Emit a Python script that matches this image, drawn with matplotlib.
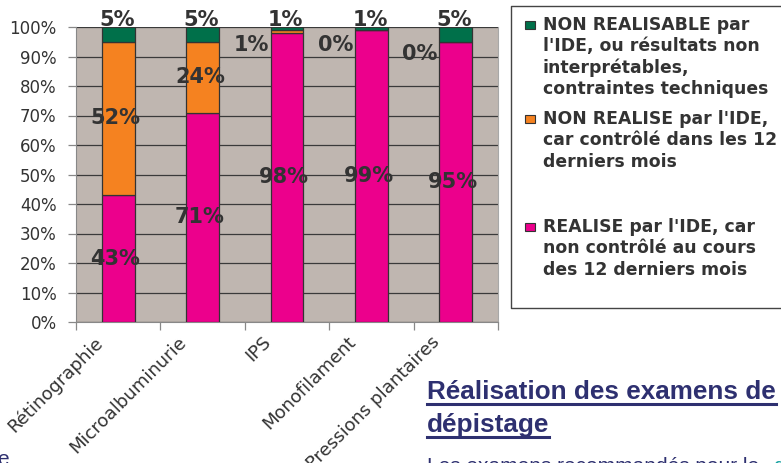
import numpy as np
import matplotlib
matplotlib.use("Agg")
import matplotlib.pyplot as plt
from matplotlib.patches import Rectangle
from matplotlib.lines import Line2D
from matplotlib.transforms import offset_copy

# data
categories = ["Rétinographie", "Microalbuminurie", "IPS", "Monofilament", "Pressions plantaires"]
realise = [43, 71, 98, 99, 95]
non_realise = [52, 24, 1, 0, 0]
non_realisable = [5, 5, 1, 1, 5]
yticks = [0, 10, 20, 30, 40, 50, 60, 70, 80, 90, 100]

legend_lines = [
    ["NON REALISABLE par", "l'IDE, ou résultats non", "interprétables,", "contraintes techniques"],
    ["NON REALISE par l'IDE,", "car contrôlé dans les 12", "derniers mois"],
    ["REALISE par l'IDE, car", "non contrôlé au cours", "des 12 derniers mois"],
]
heading_lines = ["Réalisation des examens de", "dépistage"]
body_text = "Les examens recommandés pour le"

PINK = "#EC008C"
ORANGE = "#F58220"
GREEN = "#00704A"
NAVY = "#2E3070"
TXT = "#333333"

W, H = 781, 463


def fx(px):
    return px / W


def fy(py):
    return 1 - py / H


fig = plt.figure(figsize=(W / 100, H / 100), dpi=100)
ax = fig.add_axes([fx(76), fy(322), 422 / W, 295 / H])
ax.set_facecolor("#BFB6B0")

x = np.arange(len(categories))
bw = 0.39
bottom2 = np.array(realise)
bottom3 = bottom2 + np.array(non_realise)
ax.bar(x, realise, bw, color=PINK, edgecolor="#333333", lw=0.9, zorder=3)
ax.bar(x, non_realise, bw, bottom=bottom2, color=ORANGE, edgecolor="#333333", lw=0.9, zorder=3)
ax.bar(x, non_realisable, bw, bottom=bottom3, color=GREEN, edgecolor="#333333", lw=0.9, zorder=3)

ax.set_xlim(-0.5, len(categories) - 0.5)
ax.set_ylim(0, 100)
ax.set_yticks(yticks)
ax.set_yticklabels([f"{v}%" for v in yticks], fontsize=12, color=TXT)
ax.yaxis.grid(True, color="#3a3a3a", lw=0.9, zorder=1)
ax.set_axisbelow(True)
ax.tick_params(axis="y", length=6, width=0.9, color="#888888", pad=8)

# boundary ticks on x, labels placed by hand
ax.set_xticks(np.arange(len(categories) + 1) - 0.5)
ax.set_xticklabels([])
ax.tick_params(axis="x", length=6, width=0.9, color="#888888")
for s in ["left", "bottom"]:
    ax.spines[s].set_color("#888888")
ax.spines["right"].set_color("#A8A8A8")
ax.spines["top"].set_visible(False)

lab_tr = offset_copy(ax.get_xaxis_transform(), fig=fig, x=-18, y=-8, units="points")
for i, c in enumerate(categories):
    ax.text(i, 0, c, transform=lab_tr, rotation=45, ha="right", va="top",
            rotation_mode="anchor", fontsize=13, color=TXT)

# value labels
lbl = dict(fontsize=15, fontweight="bold", color=TXT, ha="center", va="center", zorder=5)
shift_l = offset_copy(ax.transData, fig=fig, x=-2, y=0, units="points")
for i in range(len(categories)):
    ax.text(i, realise[i] / 2, f"{realise[i]}%", transform=shift_l, **lbl)
    if non_realise[i] >= 5:
        ax.text(i, bottom2[i] + non_realise[i] / 2, f"{non_realise[i]}%", transform=shift_l, **lbl)
    else:
        tr = offset_copy(ax.transData, fig=fig, x=-26, y=0, units="points")
        ax.text(i, min(bottom2[i], 98) - 4, f"{non_realise[i]}%", transform=tr, clip_on=False, **lbl)
    tr = offset_copy(ax.transData, fig=fig, x=-1, y=5, units="points")
    ax.text(i, 100, f"{non_realisable[i]}%", transform=tr, clip_on=False, **lbl)

# legend box, open on the right (it runs off the slide)
fig.lines.append(Line2D([fx(W), fx(511), fx(511), fx(W)], [fy(6), fy(6), fy(308), fy(308)],
                        transform=fig.transFigure, color="#444444", lw=1))
leg_colors = [GREEN, ORANGE, PINK]
starts = [25, 119, 227]
for lines, col, y0 in zip(legend_lines, leg_colors, starts):
    fig.patches.append(Rectangle((fx(525), fy(y0 + 4)), 10 / W, 8 / H, transform=fig.transFigure,
                                 facecolor=col, edgecolor="#333333", lw=0.8))
    for k, line in enumerate(lines):
        fig.text(fx(543), fy(y0 + k * 21.3), line, fontsize=12.4, fontweight="bold",
                 color=TXT, va="center", ha="left")

# heading with underline
heads = []
for line, base in zip(heading_lines, [399, 432]):
    t = fig.text(fx(427), fy(base), line, fontsize=18.8, fontweight="bold",
                 family="Liberation Sans", color=NAVY, va="baseline", ha="left")
    heads.append((t, base))
fig.text(fx(427), fy(472), body_text, fontsize=15, family="Liberation Sans",
         color=NAVY, va="baseline", ha="left")
fig.text(fx(773), fy(472), "d", fontsize=15, family="Liberation Sans",
         color="#1BA3A3", va="baseline", ha="left")
fig.text(fx(-3), fy(465), "e", fontsize=15, family="Liberation Sans",
         color=NAVY, va="baseline", ha="left")

fig.canvas.draw()
rend = fig.canvas.get_renderer()
for t, base in heads:
    bb = t.get_window_extent(rend)
    fig.lines.append(Line2D([bb.x0 / W, bb.x1 / W], [fy(base + 5)] * 2,
                            transform=fig.transFigure, color=NAVY, lw=2.2))

fig.savefig("out.png", dpi=100)
